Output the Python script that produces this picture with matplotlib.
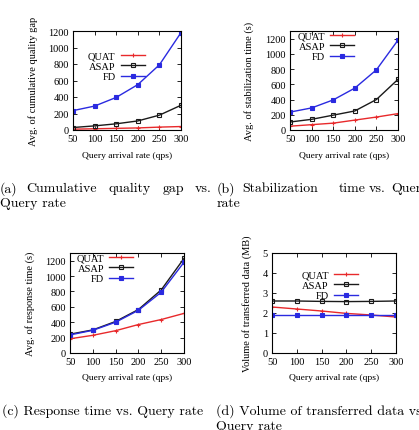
import matplotlib
matplotlib.use("Agg")
import matplotlib.pyplot as plt

rates = [50, 100, 150, 200, 250, 300]
series_names = ["QUAT", "ASAP", "FD"]

gap_quat = [10, 15, 20, 25, 35, 42]
gap_asap = [30, 50, 75, 110, 180, 300]
gap_fd = [235, 290, 395, 550, 790, 1180]

stab_quat = [50, 70, 90, 130, 170, 215]
stab_asap = [105, 140, 195, 250, 400, 665]
stab_fd = [235, 290, 395, 550, 790, 1180]

resp_quat = [185, 230, 290, 370, 435, 515]
resp_asap = [245, 300, 410, 565, 820, 1230]
resp_fd = [235, 295, 400, 555, 790, 1180]

vol_quat = [2.3, 2.2, 2.1, 1.98, 1.9, 1.8]
vol_asap = [2.6, 2.6, 2.58, 2.57, 2.58, 2.6]
vol_fd = [1.9, 1.9, 1.9, 1.9, 1.9, 1.9]

W, H = 419, 431
fig = plt.figure(figsize=(W / 100, H / 100), dpi=100)

serif = "Liberation Serif"
colors = ["#e8292b", "#1a1a1a", "#2a2ae0"]
markers = ["+", "s", "s"]
mfcs = ["#e8292b", "none", "#2a2ae0"]


def axes_px(l, r, t, b):
    return fig.add_axes([l / W, 1 - b / H, (r - l) / W, (b - t) / H])


def panel(box, data, ylim, yticks, ylabel, ylabel_x, xlabel_y, legend_anchor):
    l, r, t, b = box
    ax = axes_px(l, r, t, b)
    for i, (vals, name) in enumerate(zip(data, series_names)):
        ax.plot(rates, vals, color=colors[i], lw=1.0, marker=markers[i],
                ms=2.5 if i else 3.5, mfc=mfcs[i], mec=colors[i], mew=0.8, label=name)
    ax.set_xlim(50, 300)
    ax.set_ylim(*ylim)
    ax.set_xticks(rates)
    ax.set_yticks(yticks)
    ax.tick_params(direction="in", length=3, width=0.6, top=True, right=True,
                   labelsize=7.5, pad=3)
    for lab in ax.get_xticklabels() + ax.get_yticklabels():
        lab.set_fontfamily(serif)
    for s in ax.spines.values():
        s.set_linewidth(0.8)
    fig.text(ylabel_x / W, 1 - ((t + b) / 2) / H, ylabel, rotation=90, ha="center",
             va="center", fontsize=7.5, family=serif)
    fig.text(((l + r) / 2) / W, 1 - xlabel_y / H, "Query arrival rate (qps)", ha="center",
             va="center", fontsize=6.8, family=serif)
    leg = ax.legend(loc="upper left", bbox_to_anchor=legend_anchor, markerfirst=False,
                    frameon=False, prop={"family": serif, "size": 7.5}, handlelength=2.3,
                    handletextpad=0.5, labelspacing=0.12, borderpad=0.2, borderaxespad=0)
    for txt in leg.get_texts():
        txt.set_ha("right")
    return ax


panel((73, 181, 32, 131), [gap_quat, gap_asap, gap_fd], (0, 1200),
      [0, 200, 400, 600, 800, 1000, 1200], "Avg. of cumulative quality gap", 33, 156,
      (0.12, 0.82))
panel((290, 398, 32, 131), [stab_quat, stab_asap, stab_fd], (0, 1300),
      [0, 200, 400, 600, 800, 1000, 1200], "Avg. of stabilization time (s)", 249, 156,
      (0.05, 1.02))
panel((70, 184, 254, 354), [resp_quat, resp_asap, resp_fd], (0, 1300),
      [0, 200, 400, 600, 800, 1000, 1200], "Avg. of response time (s)", 30, 378,
      (0.04, 1.02))
panel((272, 396, 254, 354), [vol_quat, vol_asap, vol_fd], (0, 5),
      [0, 1, 2, 3, 4, 5], "Volume of transferred data (MB)", 247, 378,
      (0.22, 0.85))

cap = dict(fontsize=10, family="cmr10", va="center", ha="left")


def words(xs, ws, y):
    for x, w in zip(xs, ws):
        fig.text(x / W, 1 - y / H, w, **cap)


words([0, 26, 108, 163, 195], ["(a)", "Cumulative", "quality", "gap", "vs."], 189)
fig.text(0 / W, 1 - 204 / H, "Query rate", **cap)
words([217, 242, 339, 369, 391], ["(b)", "Stabilization", "time", "vs.", "Query"], 189)
fig.text(217 / W, 1 - 204 / H, "rate", **cap)
fig.text(2 / W, 1 - 411 / H, "(c) Response time vs. Query rate", **cap)
fig.text(216 / W, 1 - 411 / H, "(d) Volume of transferred data vs.", **cap)
fig.text(216 / W, 1 - 427 / H, "Query rate", **cap)

fig.savefig("out.png", dpi=100)
